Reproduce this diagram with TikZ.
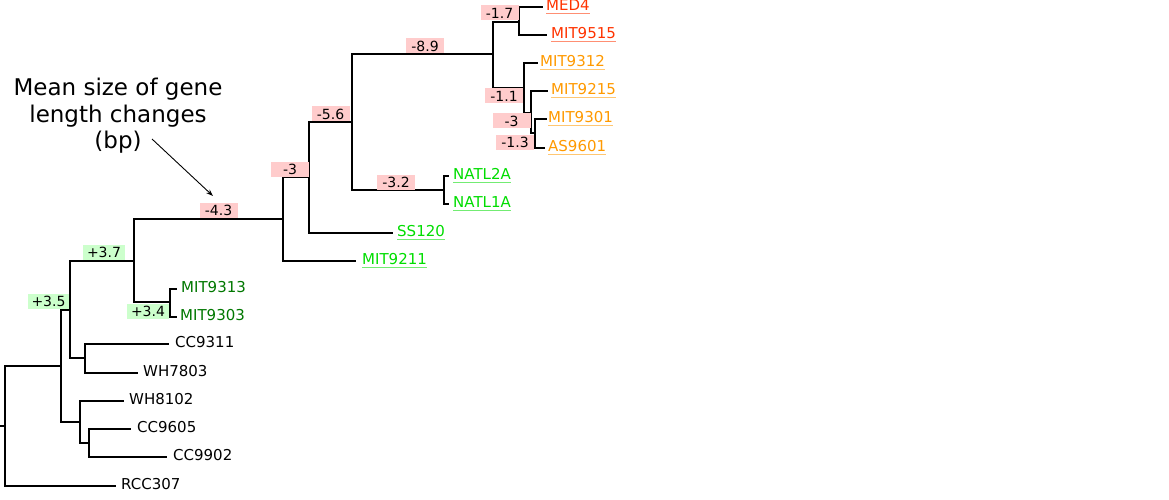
\documentclass[tikz,border=0pt]{standalone}
\usepackage{fontspec}
\setmainfont{DejaVu Sans}
\usetikzlibrary{arrows.meta}
\definecolor{cred}{RGB}{255,51,0}
\definecolor{corange}{RGB}{255,153,0}
\definecolor{cgreen}{RGB}{0,221,0}
\definecolor{cdark}{RGB}{0,119,0}
\definecolor{negfill}{RGB}{255,204,204}
\definecolor{posfill}{RGB}{204,255,204}
\begin{document}
\begin{tikzpicture}[x=1pt,y=-1pt,
  br/.style={line width=1.7pt,line join=miter,line cap=rect},
  leaf/.style={anchor=west,inner sep=0pt,text height=7pt,text depth=0pt,font=\fontsize{15}{18}\selectfont},
  ul/.style={line width=1.3pt},
  boxlab/.style={inner xsep=4pt,inner ysep=0pt,minimum width=38pt,minimum height=15pt,font=\fontsize{14}{15}\selectfont},
  negbox/.style={boxlab,fill=negfill},
  posbox/.style={boxlab,fill=posfill},
  annot/.style={anchor=base,inner sep=0pt,font=\fontsize{23}{26.5}\selectfont}]
\useasboundingbox (0,0) rectangle (1169,500);

% internal nodes
\coordinate (R) at (5,426);
\coordinate (S) at (0,426);
\coordinate (A) at (61,366);
\coordinate (B) at (70,310);
\coordinate (C) at (134,261);
\coordinate (D) at (170,302);
\coordinate (E) at (85,358);
\coordinate (F) at (80,422);
\coordinate (G) at (89,443);
\coordinate (H) at (283,219);
\coordinate (I) at (309,177);
\coordinate (J) at (352,122);
\coordinate (K) at (444,190);
\coordinate (L) at (493,54);
\coordinate (M) at (519,22);
\coordinate (N) at (524,88);
\coordinate (O) at (531,113);
\coordinate (P) at (535,133);

% leaf labels
\node[leaf,text=cred] (tMED4) at (546,7) {MED4};
\node[leaf,text=cred] (tMIT9515) at (551,35) {MIT9515};
\node[leaf,text=corange] (tMIT9312) at (540,63) {MIT9312};
\node[leaf,text=corange] (tMIT9215) at (551,91) {MIT9215};
\node[leaf,text=corange] (tMIT9301) at (548,119) {MIT9301};
\node[leaf,text=corange] (tAS9601) at (548,148) {AS9601};
\node[leaf,text=cgreen] (tNATL2A) at (453,176) {NATL2A};
\node[leaf,text=cgreen] (tNATL1A) at (453,204) {NATL1A};
\node[leaf,text=cgreen] (tSS120) at (397,233) {SS120};
\node[leaf,text=cgreen] (tMIT9211) at (362,261) {MIT9211};
\node[leaf,text=cdark] (tMIT9313) at (181,289) {MIT9313};
\node[leaf,text=cdark] (tMIT9303) at (180,317) {MIT9303};
\node[leaf] (tCC9311) at (175,344) {CC9311};
\node[leaf] (tWH7803) at (143,373) {WH7803};
\node[leaf] (tWH8102) at (129,401) {WH8102};
\node[leaf] (tCC9605) at (137,429) {CC9605};
\node[leaf] (tCC9902) at (173,457) {CC9902};
\node[leaf] (tRCC307) at (121,486) {RCC307};

% underlines
\foreach \t/\c in {tMED4/cred,tMIT9515/cred,tMIT9312/corange,tMIT9215/corange,tMIT9301/corange,tAS9601/corange,tNATL2A/cgreen,tNATL1A/cgreen,tSS120/cgreen,tMIT9211/cgreen}
  \draw[ul,\c!55] ([yshift=-3pt]\t.base west) -- ([yshift=-3pt]\t.base east);

% branches
\draw[br] (S) -- (R);
\draw[br] (R) |- (A);
\draw[br] (R) |- ([xshift=-6pt]tRCC307.west);
\draw[br] (A) |- (B);
\draw[br] (A) |- (F);
\draw[br] (B) |- (C);
\draw[br] (B) |- (E);
\draw[br] (C) |- (H);
\draw[br] (C) |- (D);
\draw[br] (D) |- ([xshift=-5pt]tMIT9313.west);
\draw[br] (D) |- ([xshift=-4pt]tMIT9303.west);
\draw[br] (E) |- ([xshift=-7pt]tCC9311.west);
\draw[br] (E) |- ([xshift=-6pt]tWH7803.west);
\draw[br] (F) |- ([xshift=-6pt]tWH8102.west);
\draw[br] (F) |- (G);
\draw[br] (G) |- ([xshift=-7pt]tCC9605.west);
\draw[br] (G) |- ([xshift=-7pt]tCC9902.west);
\draw[br] (H) |- (I);
\draw[br] (H) |- ([xshift=-7pt]tMIT9211.west);
\draw[br] (I) |- (J);
\draw[br] (I) |- ([xshift=-5pt]tSS120.west);
\draw[br] (J) |- (L);
\draw[br] (J) |- (K);
\draw[br] (K) |- ([xshift=-5pt]tNATL2A.west);
\draw[br] (K) |- ([xshift=-5pt]tNATL1A.west);
\draw[br] (L) |- (M);
\draw[br] (L) |- (N);
\draw[br] (M) |- ([xshift=-4pt]tMED4.west);
\draw[br] (M) |- ([xshift=-5pt]tMIT9515.west);
\draw[br] (N) |- ([xshift=-3pt]tMIT9312.west);
\draw[br] (N) |- (O);
\draw[br] (O) |- ([xshift=-4pt]tMIT9215.west);
\draw[br] (O) |- (P);
\draw[br] (P) |- ([xshift=-2pt]tMIT9301.west);
\draw[br] (P) |- ([xshift=-4pt]tAS9601.west);

% branch labels
\node[negbox] (l17) at (499.5,13) {-1.7};
\node[negbox] (l89) at (425,46) {-8.9};
\node[negbox] (l11) at (504,96) {-1.1};
\node[negbox] (l3a) at (511.5,121) {-3};
\node[negbox] (l13) at (515,142) {-1.3};
\node[negbox] (l56) at (330.5,114) {-5.6};
\node[negbox] (l3b) at (290,169) {-3};
\node[negbox] (l32) at (396,182) {-3.2};
\node[negbox] (l43) at (218.5,210.5) {-4.3};
\node[posbox] (l37) at (104,252) {+3.7};
\node[posbox] (l35) at (48.5,301) {+3.5};
\node[posbox] (l34) at (148,311.5) {+3.4};

% annotation
\node[annot] (ann1) at (118,96) {Mean size of gene};
\node[annot] (ann2) at (118,122.5) {length changes};
\node[annot] (ann3) at (118,149) {(bp)};
\coordinate (arrS) at (152,139);
\coordinate (arrE) at (213,196);
\draw[line width=0.9pt,-{Stealth[length=7pt,width=5pt]}] (arrS) -- (arrE);
\end{tikzpicture}
\end{document}
